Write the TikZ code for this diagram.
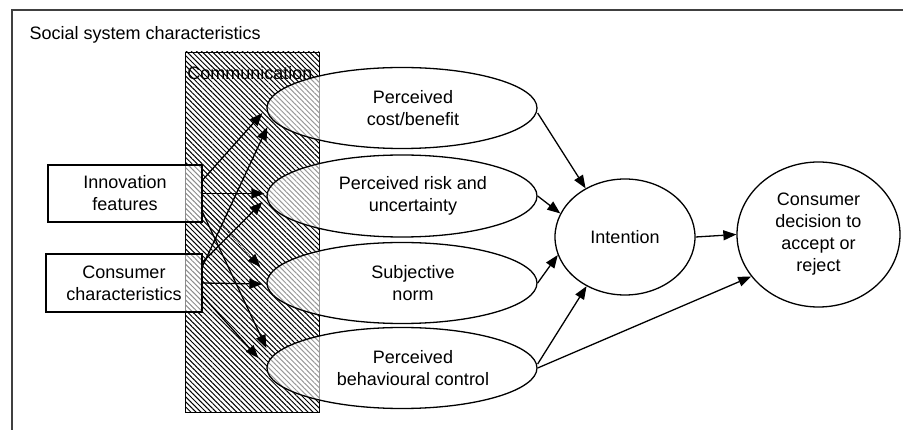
\documentclass[tikz,border=0pt]{standalone}
\usepackage{fontspec}
\setmainfont{Liberation Sans}
\usetikzlibrary{shapes.geometric,arrows.meta,patterns.meta}

\begin{document}
\begin{tikzpicture}
	[x=1pt,y=-1pt,line width=1.3pt,
	every node/.style={font=\fontsize{18}{22}\selectfont,align=center,inner sep=0pt},
	hatch/.style={draw,line width=0.9pt,pattern={Lines[angle=-45,distance=3.6pt,line width=1pt]},minimum width=134pt,minimum height=360pt},
	box/.style={draw,fill=white,fill opacity=0.55,text opacity=1,minimum width=154pt,minimum height=57pt},
	oval/.style={draw,ellipse,fill=white,fill opacity=0.6,text opacity=1,minimum width=270pt,minimum height=81pt},
	arr/.style={-{Triangle[length=13pt,width=10pt]}}]
	\useasboundingbox (0,0) rectangle (903,430);
	\draw[black!75,line width=1.4pt] (12,430) |- (903,10);
	\node[anchor=west] (social) at (29,35) {Social system characteristics};
	\node[hatch] (comm) at (252,232) {};
	\node (commtext) at (250,73) {Communication};
	\node[box] (innov) at (125,193.5) {Innovation\\features};
	\node[box,minimum width=156pt,minimum height=58pt] (cons) at (124,283) {Consumer\\characteristics};
	\node[oval] (cost) at (402,108) {\hspace*{22pt}Perceived\\\hspace*{22pt}cost/benefit};
	\node[oval,minimum height=82pt] (risk) at (402,196) {\hspace*{22pt}Perceived risk and\\\hspace*{22pt}uncertainty};
	\node[oval] (norm) at (402,283) {\hspace*{22pt}Subjective\\\hspace*{22pt}norm};
	\node[oval] (control) at (402,368) {\hspace*{22pt}Perceived\\\hspace*{22pt}behavioural control};
	\node[draw,ellipse,minimum width=140pt,minimum height=116pt] (intent) at (625,237) {Intention};
	\node[draw,ellipse,minimum width=163pt,minimum height=145pt] (decision) at (818.5,234.5) {Consumer\\decision to\\accept or\\reject};
	\draw[arr] ([yshift=13.5pt]innov.east) -- ([shift={(-4,5)}]cost.west);
	\draw[arr] ([yshift=17pt]cons.east) -- ([shift={(1,19)}]cost.west);
	\draw[arr] (innov.east) -- ([shift={(-2,-2.5)}]risk.west);
	\draw[arr] ([yshift=21pt]cons.east) -- ([shift={(-4,6)}]risk.west);
	\draw[arr,densely dotted,line width=0.8pt] ([yshift=-11pt]innov.east) -- ([shift={(-6,-16)}]norm.west);
	\draw[arr] (cons.east) -- ([shift={(-4,1)}]norm.west);
	\draw[arr] ([yshift=-19pt]innov.east) -- ([shift={(0,-20)}]control.west);
	\draw[arr] ([yshift=-13pt]cons.east) -- ([shift={(-8,-10)}]control.west);
	\draw[arr] ([yshift=-5pt]cost.east) -- (intent.129);
	\draw[arr] (risk.east) -- (intent.160);
	\draw[arr] (norm.east) -- (intent.195);
	\draw[arr] ([yshift=4pt]control.east) -- (intent.232);
	\draw[arr] (control.east) -- (decision.212);
	\draw[arr] (intent.east) -- (decision.west);
\end{tikzpicture}
\end{document}
